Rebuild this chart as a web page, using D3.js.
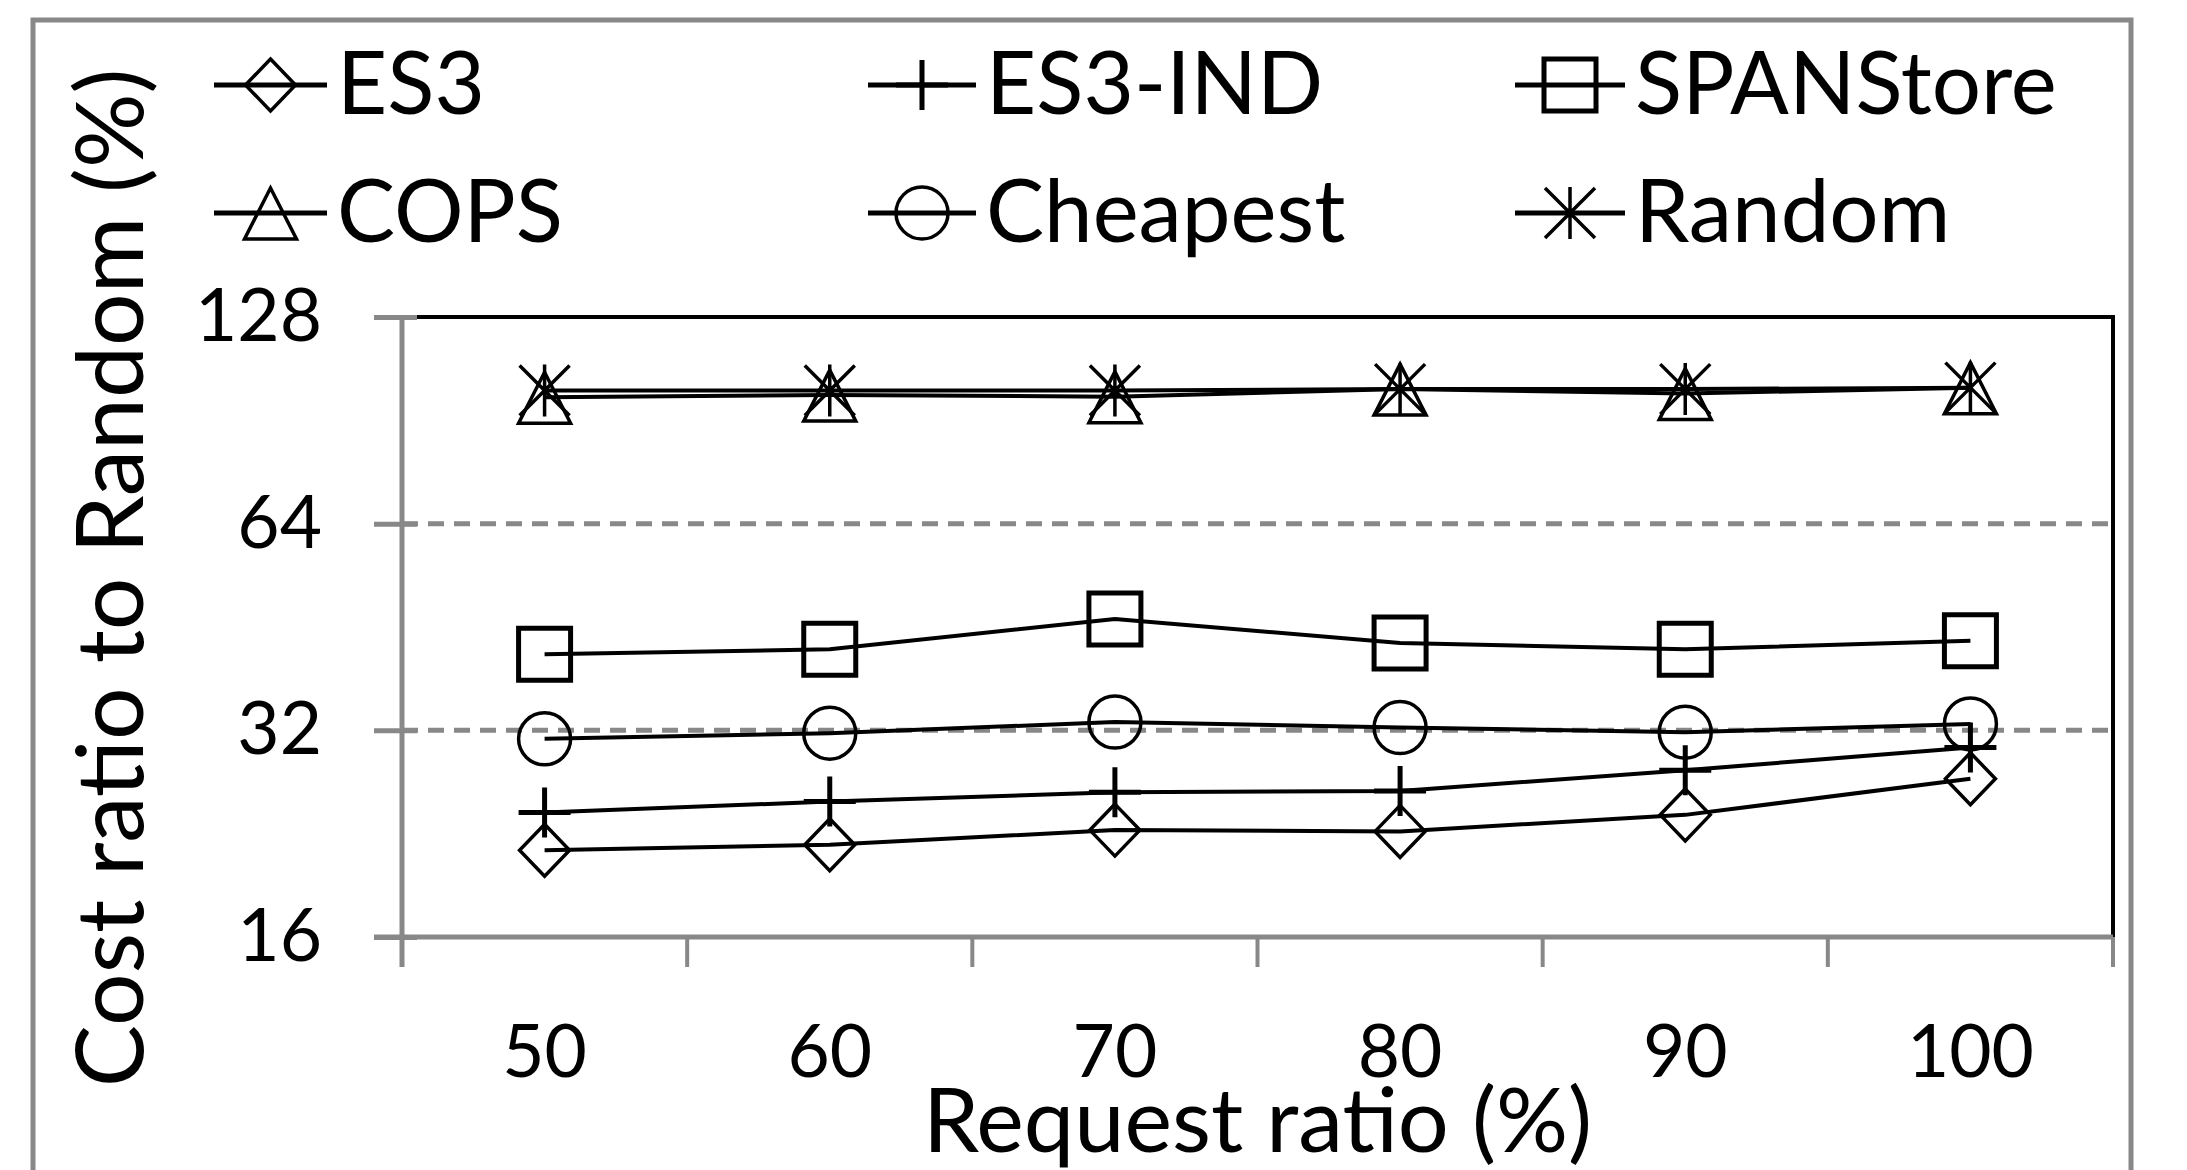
<!DOCTYPE html>
<html lang="en">
	<head>
	<meta charset="UTF-8">
	<title>Cost ratio to Random</title>
	<style>
		body { margin: 0; background: #fff; }
		text { font-family: Lato, 'Open Sans', sans-serif; fill: #000; }
	</style>
	</head>
	<body>
		<svg id='graph'></svg>

		<script src='https://d3js.org/d3.v7.min.js'></script>
		<script>
			// data
			const categories = ['50', '60', '70', '80', '90', '100'];
			const yTicks = [16, 32, 64, 128];
			const es3 = [21.4, 21.8, 22.9, 22.8, 24.1, 27.2];
			const es3Ind = [24.3, 25.2, 26.0, 26.1, 28.0, 30.2];
			const spanStore = [41.3, 42.0, 46.5, 42.9, 42.0, 43.2];
			const cops = [97.8, 98.5, 98.0, 100.5, 99.0, 101.0];
			const cheapest = [31.1, 31.7, 32.9, 32.3, 31.8, 32.7];
			const random = [100, 100, 100, 100.5, 100.5, 101];

			const series = [
				{ name: 'ES3', values: es3, shape: 'diamond' },
				{ name: 'ES3-IND', values: es3Ind, shape: 'plus' },
				{ name: 'SPANStore', values: spanStore, shape: 'square' },
				{ name: 'COPS', values: cops, shape: 'triangle' },
				{ name: 'Cheapest', values: cheapest, shape: 'circle' },
				{ name: 'Random', values: random, shape: 'star' }
			];

			const width = 2187;
			const height = 1170;
			const plot = { left: 402, right: 2113, top: 317, bottom: 937 };
			const gray = '#888';

			const svg = d3.select('#graph')
				.attr('width', width)
				.attr('height', height);

			// outer frame
			svg.append('rect')
				.attr('x', 33).attr('y', 20)
				.attr('width', 2098).attr('height', 1200)
				.attr('fill', 'none')
				.attr('stroke', gray)
				.attr('stroke-width', 5);

			const xScale = d3.scaleBand()
				.domain(categories)
				.range([plot.left, plot.right]);

			const yScale = d3.scaleLog()
				.base(2)
				.domain([16, 128])
				.range([plot.bottom, plot.top]);

			// dashed gridlines
			svg.append('g')
				.selectAll('line')
				.data(yTicks.filter(d => d > 16 && d < 128))
				.enter().append('line')
				.attr('x1', plot.left).attr('x2', plot.right)
				.attr('y1', d => yScale(d)).attr('y2', d => yScale(d))
				.attr('stroke', gray)
				.attr('stroke-width', 5)
				.attr('stroke-dasharray', '16,10');

			// top and right border
			svg.append('path')
				.attr('d', `M${plot.left},${plot.top}H${plot.right}V${plot.bottom}`)
				.attr('fill', 'none')
				.attr('stroke', '#000')
				.attr('stroke-width', 4);

			// y axis
			const yAxis = d3.axisLeft(yScale)
				.tickValues(yTicks)
				.tickFormat(d3.format('d'))
				.tickSize(28)
				.tickPadding(52);

			const yG = svg.append('g')
				.attr('transform', `translate(${plot.left},0)`)
				.call(yAxis);
			yG.select('.domain').remove();
			yG.selectAll('.tick line')
				.attr('x1', 15)
				.attr('stroke', gray)
				.attr('stroke-width', 5);
			yG.selectAll('.tick text')
				.attr('font-size', 73)
				.attr('font-family', 'Lato');
			yG.append('line')
				.attr('y1', plot.top).attr('y2', plot.bottom + 30)
				.attr('stroke', gray)
				.attr('stroke-width', 5);

			// x axis
			const xAxis = d3.axisBottom(xScale)
				.tickSize(0)
				.tickPadding(88);

			const xG = svg.append('g')
				.attr('transform', `translate(0,${plot.bottom})`)
				.call(xAxis);
			xG.select('.domain').remove();
			xG.selectAll('.tick text')
				.attr('font-size', 73)
				.attr('font-family', 'Lato');
			xG.append('line')
				.attr('x1', plot.left - 28).attr('x2', plot.right)
				.attr('stroke', gray)
				.attr('stroke-width', 5);
			xG.selectAll('.bound')
				.data(categories.map(c => xScale(c)).concat([plot.right]))
				.enter().append('line')
				.attr('class', 'bound')
				.attr('x1', d => d).attr('x2', d => d)
				.attr('y1', 0).attr('y2', 30)
				.attr('stroke', gray)
				.attr('stroke-width', 4);

			// axis titles
			svg.append('text')
				.attr('x', (plot.left + plot.right) / 2)
				.attr('y', 1152)
				.attr('text-anchor', 'middle')
				.attr('font-size', 90)
				.text('Request ratio (%)');

			svg.append('text')
				.attr('transform', 'translate(143,578) rotate(-90)')
				.attr('text-anchor', 'middle')
				.attr('font-size', 93)
				.text('Cost ratio to Random (%)');

			// marker shapes
			function markerPath(shape) {
				switch (shape) {
					case 'diamond': return 'M0,-26L25,0L0,26L-25,0Z';
					case 'plus': return 'M-26,0H26M0,-25V25';
					case 'square': return 'M-26,-26H26V26H-26Z';
					case 'triangle': return 'M0,-25L26,26H-26Z';
					case 'circle': return 'M26,0A26,26 0 1,1 -26,0A26,26 0 1,1 26,0Z';
					case 'star': return 'M-25,-25L25,25M-25,25L25,-25M0,-26V26';
				}
			}
			function markerWidth(shape) {
				if (shape === 'square' || shape === 'plus') return 5;
				return 3.5;
			}

			const line = d3.line()
				.x((d, i) => xScale(categories[i]) + xScale.bandwidth() / 2)
				.y(d => yScale(d));

			const seriesG = svg.append('g');
			series.forEach(s => {
				const g = seriesG.append('g');
				g.selectAll('.marker')
					.data(s.values)
					.enter().append('path')
					.attr('class', 'marker')
					.attr('transform', (d, i) => `translate(${xScale(categories[i]) + xScale.bandwidth() / 2},${yScale(d)})`)
					.attr('d', markerPath(s.shape))
					.attr('fill', 'none')
					.attr('stroke', '#000')
					.attr('stroke-width', markerWidth(s.shape));
				g.append('path')
					.datum(s.values)
					.attr('d', line)
					.attr('fill', 'none')
					.attr('stroke', '#000')
					.attr('stroke-width', 4)
					.attr('stroke-linejoin', 'round');
			});

			// legend: 3 columns, 2 rows
			const legendX = [[214, 327], [868, 976], [1515, 1625]];
			const legendY = [85, 213];
			const legend = svg.append('g')
				.selectAll('g')
				.data(series)
				.enter().append('g')
				.attr('transform', (d, i) => `translate(0,${legendY[Math.floor(i / 3)]})`);
			legend.append('line')
				.attr('x1', (d, i) => legendX[i % 3][0])
				.attr('x2', (d, i) => legendX[i % 3][1])
				.attr('stroke', '#000')
				.attr('stroke-width', 5);
			legend.append('path')
				.attr('transform', (d, i) => `translate(${(legendX[i % 3][0] + legendX[i % 3][1]) / 2},0)`)
				.attr('d', d => markerPath(d.shape))
				.attr('fill', 'none')
				.attr('stroke', '#000')
				.attr('stroke-width', d => markerWidth(d.shape));
			legend.append('text')
				.attr('x', (d, i) => legendX[i % 3][1] + 10)
				.attr('y', 29)
				.attr('font-size', 87)
				.text(d => d.name);
		</script>
	</body>
</html>
